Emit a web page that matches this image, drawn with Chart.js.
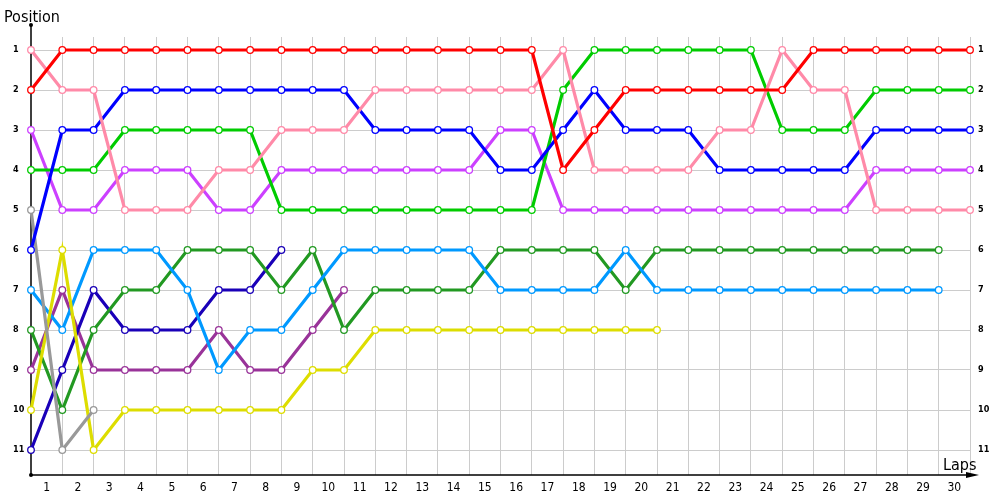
<!DOCTYPE html>
<html>
<head>
<meta charset="utf-8">
<script src="https://cdn.jsdelivr.net/npm/chart.js@4/dist/chart.umd.min.js"></script>
<style>
  body { margin: 0; background: #fff; }
  #wrap { width: 1000px; height: 500px; }
</style>
</head>
<body>
<div id="wrap"><canvas id="lapChart" width="1000" height="500"></canvas></div>
<script>
// LAP DATA // position of each driver, index = lap (0 = start)
var laps = [0,1,2,3,4,5,6,7,8,9,10,11,12,13,14,15,16,17,18,19,20,21,22,23,24,25,26,27,28,29,30];
var posTicks = [1,2,3,4,5,6,7,8,9,10,11];

var red       = [2,1,1,1,1,1,1,1,1,1,1,1,1,1,1,1,1,4,3,2,2,2,2,2,2,1,1,1,1,1,1];
var pink      = [1,2,2,5,5,5,4,4,3,3,3,2,2,2,2,2,2,1,4,4,4,4,3,3,1,2,2,5,5,5,5];
var blue      = [6,3,3,2,2,2,2,2,2,2,2,3,3,3,3,4,4,3,2,3,3,3,4,4,4,4,4,3,3,3,3];
var green     = [4,4,4,3,3,3,3,3,5,5,5,5,5,5,5,5,5,2,1,1,1,1,1,1,3,3,3,2,2,2,2];
var magenta   = [3,5,5,4,4,4,5,5,4,4,4,4,4,4,4,3,3,5,5,5,5,5,5,5,5,5,5,4,4,4,4];
var gray      = [5,11,10];
var yellow    = [10,6,11,10,10,10,10,10,10,9,9,8,8,8,8,8,8,8,8,8,8];
var lightblue = [7,8,6,6,6,7,9,8,8,7,6,6,6,6,6,7,7,7,7,6,7,7,7,7,7,7,7,7,7,7];
var darkgreen = [8,10,8,7,7,6,6,6,7,6,8,7,7,7,7,6,6,6,6,7,6,6,6,6,6,6,6,6,6,6];
var indigo    = [11,9,7,8,8,8,7,7,6];
var violet    = [9,7,9,9,9,9,8,9,9,8,7];

var FONT = '"DejaVu Sans Condensed", "DejaVu Sans", sans-serif';

function series(name, values, color) {
  return {
    label: name,
    data: values.map(function(p, i) { return { x: laps[i], y: p }; }),
    borderColor: color,
    backgroundColor: '#fff',
    borderWidth: 3.2,
    pointRadius: 3.3,
    pointBorderWidth: 1.3,
    pointBorderColor: color,
    pointBackgroundColor: '#fff',
    tension: 0,
    clip: false
  };
}

//AXES + TITLES// drawn by hand, behind the lines
var axesPlugin = {
  id: 'axes',
  beforeDatasetsDraw: function(chart) {
    var ctx = chart.ctx;
    var a = chart.chartArea;
    ctx.save();
    ctx.strokeStyle = '#000';
    ctx.fillStyle = '#000';
    ctx.lineWidth = 1.5;
    ctx.beginPath();
    ctx.moveTo(a.left, 25);
    ctx.lineTo(a.left, a.bottom);
    ctx.lineTo(a.right + 2, a.bottom);
    ctx.stroke();
    // arrow on the laps axis
    ctx.beginPath();
    ctx.moveTo(a.right + 9, a.bottom);
    ctx.lineTo(a.right - 4, a.bottom - 3);
    ctx.lineTo(a.right - 4, a.bottom + 3);
    ctx.closePath();
    ctx.fill();
    // dots
    ctx.beginPath(); ctx.arc(a.left, 25, 2, 0, Math.PI * 2); ctx.fill();
    ctx.beginPath(); ctx.arc(a.left, a.bottom, 2, 0, Math.PI * 2); ctx.fill();
    ctx.font = '16px ' + FONT;
    ctx.textBaseline = 'alphabetic';
    ctx.fillText('Position', 4, 22);
    ctx.fillText('Laps', 943, 470);
    ctx.restore();
  }
};

var ctx = document.getElementById('lapChart');
var chart = new Chart(ctx, {
  type: 'line',
  plugins: [axesPlugin],
  data: {
    datasets: [
      series('Red', red, '#ff0000'),
      series('Pink', pink, '#ff8aa8'),
      series('Blue', blue, '#0000ff'),
      series('Green', green, '#00cc00'),
      series('Magenta', magenta, '#cc40ff'),
      series('Gray', gray, '#999999'),
      series('Yellow', yellow, '#dddd00'),
      series('Light blue', lightblue, '#0099ff'),
      series('Dark green', darkgreen, '#229922'),
      series('Indigo', indigo, '#1a00b8'),
      series('Violet', violet, '#993399')
    ]
  },
  options: {
    responsive: false,
    animation: false,
    layout: { padding: { top: 37, left: 13, right: 0, bottom: 0 } },
    plugins: {
      legend: { display: false },
      tooltip: { enabled: false }
    },
    scales: {
      x: {
        type: 'linear',
        min: 0,
        max: 30,
        border: { display: false },
        grid: {
          drawTicks: false,
          lineWidth: 1,
          color: function(c) {
            var v = c.tick ? c.tick.value : 0;
            return (v > 0 && v % 1 === 0) ? '#cccccc' : 'rgba(0,0,0,0)';
          }
        },
        ticks: {
          stepSize: 0.5,
          autoSkip: false,
          maxRotation: 0,
          padding: 6,
          color: '#000',
          font: { family: FONT, size: 12 },
          callback: function(v) {
            return (v % 1 === 0.5) ? String(v + 0.5) : '';
          }
        },
        afterFit: function(s) { s.height = 25; }
      },
      y: {
        position: 'left',
        reverse: true,
        min: 0.675,
        max: 11.625,
        border: { display: false },
        grid: { color: '#cccccc', drawTicks: false },
        afterBuildTicks: function(s) {
          s.ticks = posTicks.map(function(p) { return { value: p }; });
        },
        ticks: {
          crossAlign: 'far',
          color: '#000',
          font: { family: FONT, size: 9, weight: 'bold' }
        },
        afterFit: function(s) { s.width = 18; }
      },
      y2: {
        position: 'right',
        reverse: true,
        min: 0.675,
        max: 11.625,
        border: { display: false },
        grid: { display: false, drawTicks: false },
        afterBuildTicks: function(s) {
          s.ticks = posTicks.map(function(p) { return { value: p }; });
        },
        ticks: {
          padding: 8,
          color: '#000',
          font: { family: FONT, size: 9, weight: 'bold' }
        },
        afterFit: function(s) { s.width = 30; }
      }
    }
  }
});
</script>
</body>
</html>
